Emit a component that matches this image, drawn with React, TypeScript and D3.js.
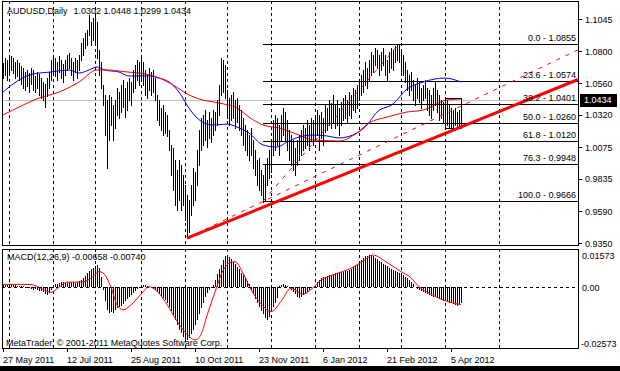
import * as d3 from 'd3';

const W = 620;
const H = 371;
const FONT = "Tahoma, 'Liberation Sans', Arial, sans-serif";

const title = 'AUDUSD,Daily';
const lastBar = ['1.0302', '1.0448', '1.0299', '1.0434'];
const lastClose = 1.0434;

// daily bars, 27 May 2011 .. 12 Apr 2012 (high / low)
const highs = [
  1.0712, 1.0750, 1.0735, 1.0757, 1.0765, 1.0750, 1.0720, 1.0735, 1.0712, 1.0689,
  1.0674, 1.0644, 1.0659, 1.0636, 1.0674, 1.0659, 1.0614, 1.0644, 1.0629, 1.0598,
  1.0568, 1.0553, 1.0598, 1.0644, 1.0735, 1.0773, 1.0750, 1.0720, 1.0765, 1.0735,
  1.0704, 1.0735, 1.0773, 1.0788, 1.0750, 1.0720, 1.0750, 1.0735, 1.0773, 1.0863,
  1.0901, 1.0939, 1.0962, 1.1075, 1.1022, 1.1053, 1.1075, 1.1022, 1.0810, 1.0720,
  1.0546, 1.0470, 1.0432, 1.0470, 1.0455, 1.0394, 1.0432, 1.0523, 1.0492, 1.0546,
  1.0583, 1.0523, 1.0568, 1.0598, 1.0568, 1.0659, 1.0697, 1.0735, 1.0720, 1.0757,
  1.0720, 1.0659, 1.0621, 1.0674, 1.0644, 1.0659, 1.0598, 1.0470, 1.0432, 1.0371,
  1.0394, 1.0341, 1.0319, 1.0205, 1.0092, 1.0069, 0.9978, 0.9902, 0.9978, 0.9940,
  0.9864, 0.9789, 0.9713, 0.9675, 0.9789, 0.9917, 0.9887, 1.0054, 1.0205, 1.0296,
  1.0319, 1.0356, 1.0281, 1.0341, 1.0296, 1.0356, 1.0341, 1.0432, 1.0546, 1.0750,
  1.0735, 1.0697, 1.0508, 1.0447, 1.0470, 1.0492, 1.0432, 1.0447, 1.0394, 1.0356,
  1.0296, 1.0243, 1.0205, 1.0167, 1.0220, 1.0129, 1.0054, 0.9978, 0.9993, 0.9902,
  0.9864, 0.9940, 0.9993, 1.0054, 1.0129, 1.0281, 1.0319, 1.0296, 1.0243, 1.0319,
  1.0371, 1.0341, 1.0281, 1.0205, 1.0167, 1.0129, 1.0069, 1.0129, 1.0167, 1.0205,
  1.0243, 1.0220, 1.0281, 1.0243, 1.0296, 1.0281, 1.0319, 1.0356, 1.0319, 1.0341,
  1.0296, 1.0394, 1.0371, 1.0432, 1.0409, 1.0470, 1.0394, 1.0432, 1.0371, 1.0417,
  1.0447, 1.0470, 1.0432, 1.0492, 1.0470, 1.0523, 1.0508, 1.0546, 1.0583, 1.0621,
  1.0659, 1.0720, 1.0674, 1.0735, 1.0795, 1.0773, 1.0826, 1.0810, 1.0773, 1.0795,
  1.0826, 1.0773, 1.0735, 1.0795, 1.0826, 1.0810, 1.0841, 1.0848, 1.0855, 1.0810,
  1.0773, 1.0720, 1.0659, 1.0621, 1.0644, 1.0583, 1.0546, 1.0598, 1.0568, 1.0523,
  1.0546, 1.0583, 1.0523, 1.0508, 1.0470, 1.0523, 1.0568, 1.0508, 1.0470, 1.0432,
  1.0417, 1.0447, 1.0432, 1.0394, 1.0371, 1.0356, 1.0371, 1.0341, 1.0356, 1.0448,
];
const lows = [
  1.0598, 1.0621, 1.0583, 1.0644, 1.0659, 1.0636, 1.0598, 1.0614, 1.0583, 1.0553,
  1.0523, 1.0508, 1.0538, 1.0492, 1.0553, 1.0508, 1.0492, 1.0523, 1.0470, 1.0447,
  1.0432, 1.0379, 1.0462, 1.0523, 1.0583, 1.0644, 1.0614, 1.0583, 1.0644, 1.0598,
  1.0568, 1.0621, 1.0659, 1.0674, 1.0621, 1.0583, 1.0644, 1.0598, 1.0659, 1.0735,
  1.0773, 1.0826, 1.0848, 1.0924, 1.0848, 1.0886, 1.0871, 1.0750, 1.0621, 1.0523,
  1.0394, 1.0167, 0.9917, 1.0129, 1.0243, 1.0129, 1.0220, 1.0319, 1.0296, 1.0341,
  1.0379, 1.0303, 1.0356, 1.0432, 1.0394, 1.0492, 1.0523, 1.0583, 1.0546, 1.0598,
  1.0546, 1.0470, 1.0447, 1.0508, 1.0470, 1.0492, 1.0432, 1.0281, 1.0243, 1.0205,
  1.0167, 1.0182, 1.0160, 1.0054, 0.9864, 0.9751, 0.9637, 0.9600, 0.9675, 0.9600,
  0.9637, 0.9524, 0.9387, 0.9433, 0.9562, 0.9637, 0.9675, 0.9789, 0.9940, 1.0054,
  1.0092, 1.0129, 1.0076, 1.0145, 1.0114, 1.0167, 1.0205, 1.0243, 1.0319, 1.0470,
  1.0492, 1.0447, 1.0296, 1.0243, 1.0281, 1.0296, 1.0220, 1.0265, 1.0205, 1.0167,
  1.0092, 1.0054, 1.0016, 0.9978, 1.0016, 0.9917, 0.9864, 0.9789, 0.9751, 0.9713,
  0.9660, 0.9675, 0.9789, 0.9842, 0.9887, 1.0016, 1.0054, 1.0092, 1.0016, 1.0129,
  1.0167, 1.0129, 1.0054, 0.9978, 0.9940, 0.9902, 0.9864, 0.9940, 0.9978, 1.0016,
  1.0054, 1.0069, 1.0092, 1.0054, 1.0129, 1.0092, 1.0129, 1.0167, 1.0054, 1.0145,
  1.0092, 1.0190, 1.0205, 1.0243, 1.0220, 1.0265, 1.0220, 1.0243, 1.0167, 1.0243,
  1.0281, 1.0296, 1.0265, 1.0319, 1.0296, 1.0356, 1.0341, 1.0371, 1.0432, 1.0470,
  1.0492, 1.0546, 1.0523, 1.0583, 1.0621, 1.0644, 1.0697, 1.0674, 1.0621, 1.0659,
  1.0697, 1.0621, 1.0583, 1.0644, 1.0674, 1.0659, 1.0720, 1.0735, 1.0720, 1.0644,
  1.0621, 1.0568, 1.0508, 1.0470, 1.0508, 1.0432, 1.0394, 1.0447, 1.0417, 1.0371,
  1.0432, 1.0447, 1.0356, 1.0319, 1.0296, 1.0356, 1.0394, 1.0341, 1.0281, 1.0296,
  1.0265, 1.0319, 1.0243, 1.0220, 1.0228, 1.0205, 1.0243, 1.0220, 1.0235, 1.0299,
];

// moving averages: [bar index, price]
const maBlue: [number, number][] = [
  [0, 1.0492], [8, 1.0583], [15, 1.0629], [24, 1.0644], [33, 1.0659], [38, 1.0636],
  [43, 1.0659], [47, 1.0682], [51, 1.0659], [58, 1.0644], [63, 1.0614], [73, 1.0614],
  [78, 1.0598], [83, 1.0568], [88, 1.0492], [93, 1.0371], [97, 1.0296], [105, 1.0243],
  [112, 1.025], [117, 1.0228], [123, 1.0182], [130, 1.0092], [137, 1.0076], [142, 1.0114],
  [148, 1.0152], [155, 1.0167], [162, 1.016], [168, 1.0145], [177, 1.0182], [182, 1.0243],
  [187, 1.0341], [195, 1.0402], [202, 1.0515], [210, 1.0568], [221, 1.0598], [229, 1.0568],
];
const maRed: [number, number][] = [
  [0, 1.0319], [8, 1.0379], [18, 1.0447], [28, 1.0492], [38, 1.0568], [47, 1.0659],
  [52, 1.0659], [62, 1.0644], [68, 1.0636], [77, 1.0606], [85, 1.0546], [93, 1.047],
  [98, 1.044], [108, 1.0409], [117, 1.0371], [123, 1.0303], [130, 1.0243], [138, 1.022],
  [148, 1.0167], [155, 1.0129], [168, 1.0122], [177, 1.0182], [183, 1.0258], [192, 1.0303],
  [202, 1.0341], [210, 1.0356], [222, 1.0432], [229, 1.044],
];

const macdMain = [
  0.0010, 0.0013, 0.0011, 0.0014, 0.0012, 0.0009, 0.0011, 0.0007, 0.0005, 0.0006,
  0.0003, -0.0002, -0.0004, -0.0003, -0.0007, -0.0010, -0.0009, -0.0013, -0.0017, -0.0015,
  -0.0022, -0.0028, -0.0033, -0.0025, -0.0012, 0.0008, 0.0015, 0.0012, 0.0018, 0.0022,
  0.0020, 0.0023, 0.0019, 0.0021, 0.0024, 0.0020, 0.0018, 0.0022, 0.0025, 0.0030,
  0.0038, 0.0048, 0.0058, 0.0068, 0.0075, 0.0082, 0.0090, 0.0094, 0.0080, 0.0045,
  -0.0010, -0.0060, -0.0095, -0.0110, -0.0105, -0.0108, -0.0098, -0.0090, -0.0085, -0.0078,
  -0.0070, -0.0060, -0.0050, -0.0042, -0.0033, -0.0025, -0.0015, -0.0008, -0.0003, 0.0006,
  0.0009, 0.0008, 0.0005, 0.0002, -0.0002, -0.0008, -0.0012, -0.0020, -0.0030, -0.0040,
  -0.0046, -0.0055, -0.0068, -0.0082, -0.0100, -0.0120, -0.0140, -0.0160, -0.0180, -0.0195,
  -0.0210, -0.0218, -0.0223, -0.0215, -0.0200, -0.0180, -0.0160, -0.0139, -0.0115, -0.0090,
  -0.0065, -0.0040, -0.0025, -0.0012, -0.0002, 0.0010, 0.0030, 0.0055, 0.0075, 0.0095,
  0.0115, 0.0130, 0.0136, 0.0128, 0.0118, 0.0108, 0.0098, 0.0086, 0.0075, 0.0062,
  0.0050, 0.0038, 0.0025, 0.0012, -0.0010, -0.0030, -0.0050, -0.0067, -0.0085, -0.0100,
  -0.0115, -0.0130, -0.0139, -0.0125, -0.0105, -0.0085, -0.0065, -0.0045, 0.0005, 0.0008,
  0.0013, 0.0010, 0.0005, -0.0002, -0.0010, -0.0020, -0.0030, -0.0040, -0.0046, -0.0042,
  -0.0035, -0.0028, -0.0020, -0.0012, -0.0005, 0.0002, 0.0010, 0.0020, 0.0030, 0.0038,
  0.0042, 0.0045, 0.0048, 0.0050, 0.0053, 0.0056, 0.0058, 0.0060, 0.0062, 0.0064,
  0.0066, 0.0068, 0.0070, 0.0073, 0.0078, 0.0085, 0.0092, 0.0100, 0.0108, 0.0116,
  0.0124, 0.0130, 0.0134, 0.0136, 0.0136, 0.0132, 0.0125, 0.0118, 0.0112, 0.0106,
  0.0100, 0.0094, 0.0088, 0.0082, 0.0077, 0.0073, 0.0070, 0.0066, 0.0062, 0.0058,
  0.0052, 0.0045, 0.0038, 0.0030, 0.0022, 0.0012, 0.0002, -0.0008, -0.0012, -0.0016,
  -0.0020, -0.0025, -0.0030, -0.0033, -0.0036, -0.0040, -0.0043, -0.0046, -0.0050, -0.0054,
  -0.0057, -0.0060, -0.0062, -0.0065, -0.0068, -0.0072, -0.0075, -0.0078, -0.0074, -0.0066,
];
const macdSignal: [number, number][] = [
  [0, 0.0012], [9, 0.0012], [14, 0.0011], [19, -0.0005], [24, -0.0022], [28, 0.0],
  [32, 0.0021], [40, 0.0022], [45, 0.0045], [48, 0.0066], [50, 0.006], [54, 0.0],
  [57, -0.0075], [60, -0.0096], [64, -0.0075], [69, -0.003], [73, 0.0002], [76, -0.001],
  [81, -0.006], [86, -0.013], [91, -0.019], [96, -0.0223], [99, -0.02], [102, -0.012],
  [106, -0.002], [110, 0.007], [114, 0.0105], [116, 0.0108], [120, 0.006], [124, -0.001],
  [129, -0.007], [134, -0.0104], [139, -0.006], [144, -0.0005], [150, -0.003], [154, -0.001],
  [159, 0.003], [166, 0.0055], [174, 0.008], [180, 0.011], [185, 0.0136], [191, 0.011],
  [199, 0.0066], [204, 0.004], [208, 0.0002], [214, -0.003], [219, -0.005], [224, -0.0065],
  [229, -0.0074],
];
const macdLabel = 'MACD(12,26,9) -0.00658 -0.00740';

const priceTicks = ['1.1045', '1.0800', '1.0560', '1.0320', '1.0075', '0.9835', '0.9590', '0.9350'];
const macdTicks = ['0.01573', '0.00', '-0.02573'];

const fibLevels = ['0.0', '23.6', '38.2', '50.0', '61.8', '76.3', '100.0'];
const fibPrices = [1.0855, 1.0574, 1.0401, 1.026, 1.012, 0.9948, 0.9666];
const fibLow: [number, number] = [130, 0.9666];
const fibHigh: [number, number] = [198, 1.0855];

// trend lines from the October low
const octLow: [number, number] = [92, 0.9387];
const thickThrough: [number, number] = [229, 1.0228];
const novLow: [number, number] = [130, 0.9664];

// rectangle object over the last bars: [bar from, bar to, price top, price bottom]
const boxBars = [221, 229];
const boxPrices = [1.0447, 1.022];

const dateLabels = ['27 May 2011', '12 Jul 2011', '25 Aug 2011', '10 Oct 2011', '23 Nov 2011', '6 Jan 2012', '21 Feb 2012', '5 Apr 2012'];
const dateBars = [0, 32, 64, 96, 128, 160, 192, 224];
const monthBars = [3, 25, 46, 69, 91, 112, 134, 156, 178, 199, 221, 248];

const L = 2, R = 578, TOP = 1, MAIN_B = 245, MACD_T = 249, MACD_B = 348;

export default function App() {
  const x = d3.scaleLinear().domain([0, 229]).range([3, 461]);
  const yP = d3.scaleLinear().domain([0.935, 1.1045]).range([243, 19]);
  const yM = d3.scaleLinear().domain([-0.02573, 0.01573]).range([MACD_B, MACD_T + 1]);

  const maLine = d3.line<[number, number]>().x(d => x(d[0])).y(d => yP(d[1])).curve(d3.curveMonotoneX);
  const sigLine = d3.line<[number, number]>().x(d => x(d[0])).y(d => yM(d[1])).curve(d3.curveMonotoneX);

  const ray = (a: [number, number], b: [number, number]) => {
    const x1 = x(a[0]), y1 = yP(a[1]), x2 = x(b[0]), y2 = yP(b[1]);
    const k = (y2 - y1) / (x2 - x1);
    return { x1, y1, x2: R, y2: y1 + (R - x1) * k };
  };
  const thick = ray(octLow, thickThrough);
  const chan = ray(octLow, novLow);
  const px = (v: number) => Math.round(v) + 0.5;

  return (
    <svg width={W} height={H} style={{ position: 'absolute', left: 0, top: 0, background: '#fff' }} fontFamily={FONT}>
      <defs>
        <clipPath id="mainClip"><rect x={L} y={TOP} width={R - L} height={MAIN_B - TOP} /></clipPath>
      </defs>
      <rect x={0} y={0} width={W} height={H} fill="#fff" />

      {/* monthly grid */}
      <g stroke="#000" strokeDasharray="3,3" shapeRendering="crispEdges">
        {monthBars.map(m => (
          <g key={m}>
            <line x1={px(x(m))} x2={px(x(m))} y1={TOP} y2={MAIN_B} />
            <line x1={px(x(m))} x2={px(x(m))} y1={MACD_T} y2={MACD_B} />
          </g>
        ))}
        <line x1={L} x2={R} y1={px(yM(0))} y2={px(yM(0))} />
      </g>

      <g clipPath="url(#mainClip)">
        {/* fibonacci levels */}
        <g stroke="#000" shapeRendering="crispEdges">
          {fibPrices.map((p, i) => (
            <line key={i} x1={x(fibLow[0])} x2={R} y1={px(yP(p))} y2={px(yP(p))} />
          ))}
        </g>
        <line x1={L} x2={R} y1={px(yP(lastClose))} y2={px(yP(lastClose))} stroke="#c0c0c0" shapeRendering="crispEdges" />

        <path d={maLine(maBlue) ?? ''} fill="none" stroke="#0000ff" strokeWidth={1} />
        <path d={maLine(maRed) ?? ''} fill="none" stroke="#ff0000" strokeWidth={1} />

        <g stroke="#000" shapeRendering="crispEdges">
          {highs.map((h, i) => (
            <line key={i} x1={px(x(i))} x2={px(x(i))} y1={Math.round(yP(h))} y2={Math.round(yP(lows[i])) + 1} />
          ))}
        </g>

        <rect x={px(x(boxBars[0]))} y={px(yP(boxPrices[0]))} width={Math.round(x(boxBars[1]) - x(boxBars[0]))}
          height={Math.round(yP(boxPrices[1]) - yP(boxPrices[0]))} fill="none" stroke="#000" shapeRendering="crispEdges" />

        <line {...thick} stroke="#ff0000" strokeWidth={3} />
        <line {...chan} stroke="#ff0000" strokeWidth={1} strokeDasharray="4,6" />
        <line x1={x(fibLow[0])} y1={yP(fibLow[1])} x2={x(fibHigh[0])} y2={yP(fibHigh[1])} stroke="#ff0000" strokeWidth={1} strokeDasharray="4,6" />

        <g fontSize={9} fill="#000" textAnchor="end">
          {fibLevels.map((f, i) => (
            <text key={f} x={576} y={yP(fibPrices[i]) - 3}>{`${f} - ${fibPrices[i].toFixed(4)}`}</text>
          ))}
        </g>
      </g>

      {/* MACD */}
      <g stroke="#000" shapeRendering="crispEdges">
        {macdMain.map((v, i) => (
          <line key={i} x1={px(x(i))} x2={px(x(i))} y1={Math.round(yM(0))} y2={Math.round(yM(v))} />
        ))}
      </g>
      <path d={sigLine(macdSignal) ?? ''} fill="none" stroke="#ff0000" strokeWidth={1} />

      {/* frames */}
      <g fill="none" stroke="#000" shapeRendering="crispEdges">
        <rect x={L + 0.5} y={TOP + 0.5} width={R - L} height={MAIN_B - TOP} />
        <rect x={L + 0.5} y={MACD_T + 0.5} width={R - L} height={MACD_B - MACD_T} />
      </g>

      {/* price axis */}
      <g fontSize={9} fill="#000">
        {priceTicks.map(t => (
          <g key={t}>
            <line x1={R} x2={R + 4} y1={px(yP(+t))} y2={px(yP(+t))} stroke="#000" shapeRendering="crispEdges" />
            <text x={R + 7} y={yP(+t) + 3.5}>{t}</text>
          </g>
        ))}
      </g>
      <rect x={580} y={Math.round(yP(lastClose)) - 6} width={37} height={13} fill="#000" />
      <text x={584} y={yP(lastClose) + 3.5} fontSize={9} fill="#fff">{lastClose.toFixed(4)}</text>

      <g fontSize={9} fill="#000">
        <text x={582} y={259}>{macdTicks[0]}</text>
        <text x={582} y={yM(0) + 3.5}>{macdTicks[1]}</text>
        <text x={581} y={347}>{macdTicks[2]}</text>
      </g>

      {/* time axis */}
      <g fontSize={9} fill="#000">
        {dateLabels.map((d, i) => (
          <g key={d}>
            <line x1={px(x(dateBars[i]))} x2={px(x(dateBars[i]))} y1={MACD_B} y2={MACD_B + 4} stroke="#000" shapeRendering="crispEdges" />
            <text x={x(dateBars[i])} y={363}>{d}</text>
          </g>
        ))}
      </g>

      <text x={7} y={14} fontSize={9} fill="#000">
        {title}
        <tspan dx={6}>{lastBar.join(' ')}</tspan>
      </text>
      <text x={7} y={260} fontSize={9} fill="#000">{macdLabel}</text>
      <text x={6} y={346} fontSize={9} fill="#000">MetaTrader, © 2001-2011 MetaQuotes Software Corp.</text>

      <rect x={0} y={366} width={W} height={5} fill="#000" />
    </svg>
  );
}
